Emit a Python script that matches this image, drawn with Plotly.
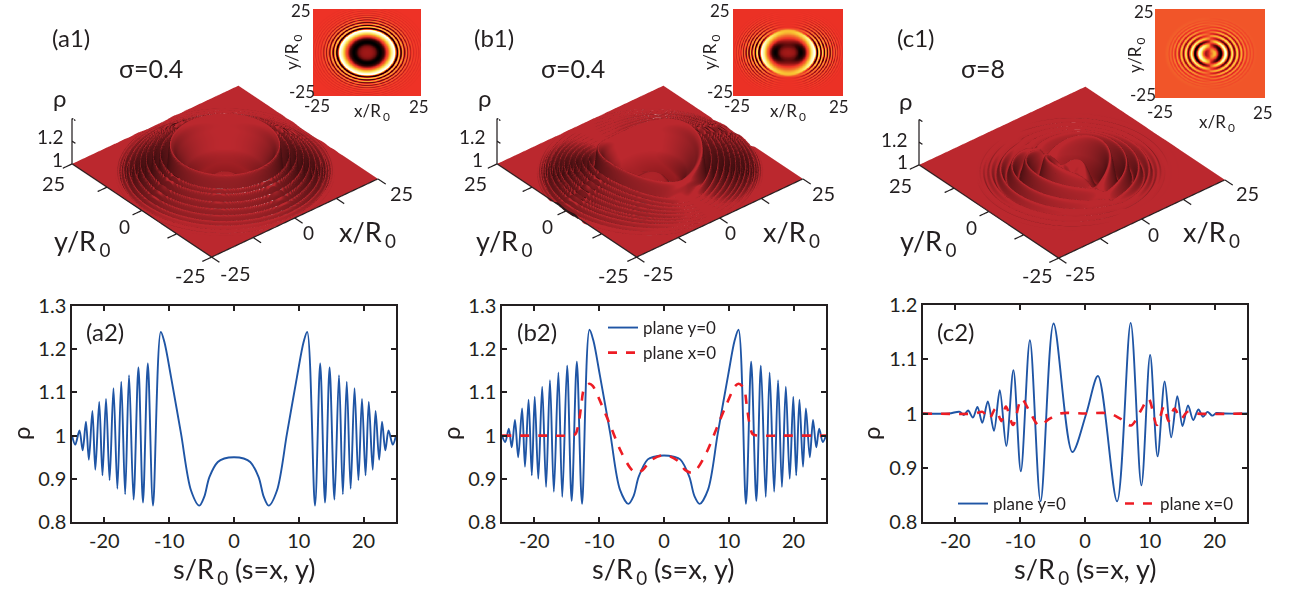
import numpy as np
import plotly.graph_objects as go

W, H = 1295, 593

a_r = [0, 1.5, 2.5, 3.8, 4.6, 5.35, 6.63, 8.18, 9.72, 10.75, 11.3, 12.5, 13.3, 14.05, 14.75, 15.5, 16.2, 16.8, 17.4, 18.0,
       18.6, 19.2, 19.75, 20.3, 20.8, 21.4, 21.85, 22.4, 22.85, 23.35, 23.85, 24.5, 25]
a_rho = [0.95, 0.947, 0.939, 0.904, 0.858, 0.838, 0.873, 1.005, 1.136, 1.217, 1.24, 0.838, 1.167, 0.845, 1.158, 0.852, 1.14,
         0.864, 1.125, 0.877, 1.11, 0.897, 1.085, 0.908, 1.078, 0.921, 1.057, 0.944, 1.032, 0.966, 1.012, 0.979, 1.0]

b_r = [0, 1.5, 2.5, 3.9, 4.7, 5.5, 6.8, 8.3, 9.9, 10.9, 11.5, 12.65, 13.45, 14.25, 14.95, 15.7, 16.3, 17.0, 17.6, 18.2,
       18.8, 19.4, 19.95, 20.4, 20.9, 21.45, 21.9, 22.5, 23.0, 23.5, 23.95, 24.5, 25]
b_rho = [0.954, 0.951, 0.945, 0.905, 0.86, 0.842, 0.875, 1.005, 1.14, 1.22, 1.245, 0.842, 1.171, 0.849, 1.162, 0.858, 1.146,
         0.87, 1.128, 0.881, 1.113, 0.9, 1.09, 0.908, 1.083, 0.928, 1.063, 0.95, 1.036, 0.973, 1.016, 0.985, 1.0]
b2_r = [0, 2.0, 3.3, 4.3, 5.1, 6.6, 8.2, 9.7, 11.0, 11.5, 12.3, 12.8, 13.2, 13.7, 14.6, 18, 25]
b2_rho = [0.955, 0.943, 0.92, 0.914, 0.923, 0.962, 1.02, 1.074, 1.115, 1.12, 1.11, 1.066, 1.027, 1.003, 1.0, 1.0, 1.0]

c_s = [-25, -21, -19.3, -18.7, -18.05, -17.3, -16.6, -15.85, -15.0, -14.05, -13.15, -12.15, -11.05, -9.9, -8.5, -6.85,
       -4.85, -1.95, 0.2, 2.0, 4.95, 7.05, 8.7, 10.05, 11.2, 12.3, 13.3, 14.25, 15.05, 15.9, 16.7, 17.5, 18.2, 18.9,
       19.65, 20.3, 21.5, 25]
c_rho = [1.0, 1.0, 1.003, 0.997, 1.0056, 0.9926, 1.012, 0.983, 1.022, 0.968, 1.043, 0.94, 1.08, 0.8935, 1.135, 0.838,
         1.166, 0.929, 1.0, 1.069, 0.838, 1.167, 0.8675, 1.108, 0.921, 1.059, 0.956, 1.032, 0.977, 1.015, 0.988, 1.0075,
         0.994, 1.003, 0.996, 1.001, 1.0, 1.0]
c2_r = [0, 3.8, 5.5, 7.1, 8.6, 9.8, 11.1, 12.2, 12.9, 13.8, 14.8, 15.8, 17, 25]
c2_rho = [1.0, 1.0, 0.99, 0.978, 1.005, 1.027, 0.979, 1.013, 0.986, 1.009, 0.99, 1.003, 1.0, 1.0]

x_tick_vals = [-20, -10, 0, 10, 20]
x_tick_text = ["-20", "-10", "0", "10", "20"]
y_ticks_ab = [0.8, 0.9, 1.0, 1.1, 1.2, 1.3]
y_ticks_c = [0.8, 0.9, 1.0, 1.1, 1.2]
axis3d_ticks = [-25, -12.5, 0, 12.5, 25]
z3d_ticks = [1.0, 1.2, 1.4]

BLUE, RED, INK = "#1f55a5", "#ed1c24", "#231f20"
FONT = "Lato"


def mirror(r, v):
    r, v = list(r), list(v)
    return [-t for t in r[:0:-1]] + r, v[:0:-1] + v


def pchip(xs, ys, q):
    xs, ys = np.asarray(xs, float), np.asarray(ys, float)
    h = np.diff(xs)
    d = np.diff(ys) / h
    m = np.zeros_like(xs)
    for i in range(1, len(xs) - 1):
        if d[i - 1] * d[i] > 0:
            w1, w2 = 2 * h[i] + h[i - 1], h[i] + 2 * h[i - 1]
            m[i] = (w1 + w2) / (w1 / d[i - 1] + w2 / d[i])
    q = np.clip(q, xs[0], xs[-1])
    k = np.clip(np.searchsorted(xs, q) - 1, 0, len(h) - 1)
    t = (q - xs[k]) / h[k]
    return ((2 * t**3 - 3 * t**2 + 1) * ys[k] + (t**3 - 2 * t**2 + t) * h[k] * m[k]
            + (-2 * t**3 + 3 * t**2) * ys[k + 1] + (t**3 - t**2) * h[k] * m[k + 1])


grid = np.linspace(-25, 25, 301)
X, Y = np.meshgrid(grid, grid)
R = np.hypot(X, Y)
COS2 = np.where(R > 0, X**2 / np.maximum(R, 1e-9)**2, 1.0)


def make_a(scale):
    return pchip(a_r, a_rho, R / scale)


def make_b(scale, p=1.0):
    w = COS2**p
    return w * pchip(b_r, b_rho, R / scale) + (1 - w) * pchip(b2_r, b2_rho, R / scale)


def make_c(scale, p=0.3):
    w = COS2**p
    return w * pchip(c_s, c_rho, np.sign(X) * R / scale) + (1 - w) * pchip(c2_r, c2_rho, R / scale)


# the surfaces and insets show the outer rings fading faster (a, b) or slower (c) than the cuts do
DAMP_SURF_A = np.clip(1 - (R - 17) / 9, 0.08, 1)
DAMP_A = np.clip(1 - (R - 13) / 10, 0.12, 1)
DAMP_B = np.clip(1 - (R - 14) / 14, 0.2, 1)
BOOST_C = np.clip(1 + 0.2 * (R - 10), 1, 3)

field_a = 1 + (make_a(1.12) - 1) * DAMP_SURF_A
field_b = make_b(1.05, 0.7)
field_c = make_c(1.25)

fig = go.Figure()


def dom_x(a, b):
    return [a / W, b / W]


def dom_y(top, bottom):
    return [1 - bottom / H, 1 - top / H]


HOT = [[0, "#000000"], [0.12, "#3a0505"], [0.25, "#8f1414"], [0.4, "#ee3226"], [0.55, "#f3702c"], [0.7, "#f9c433"],
       [0.85, "#fdf08a"], [1, "#ffffff"]]
SURF = [[0, "#8f1a1e"], [0.39, "#bb282e"], [1, "#bb282e"]]

lines = [
    ((72, 396, 306, 522), [(a_r, a_rho, True)], [0.8, 1.3], y_ticks_ab),
    ((502, 826, 306, 522), [(b_r, b_rho, True), (b2_r, b2_rho, True)], [0.8, 1.3], y_ticks_ab),
    ((923, 1247, 305, 522), [(c_s, c_rho, False), (c2_r, c2_rho, True)], [0.8, 1.2], y_ticks_c),
]
layout_axes = {}
axis_style = dict(showline=True, linecolor=INK, linewidth=1.5, mirror="ticks", ticks="inside", ticklen=5,
                  tickcolor=INK, tickwidth=1.5, showgrid=False, zeroline=False,
                  tickfont=dict(family=FONT, size=20, color=INK))
for i, (box, series, yr, yt) in enumerate(lines):
    n = i + 1
    sfx = "" if n == 1 else str(n)
    for j, (sx, sy, do_mirror) in enumerate(series):
        px, py = mirror(sx, sy) if do_mirror else (sx, sy)
        fig.add_trace(go.Scatter(
            x=px, y=py, mode="lines", xaxis=f"x{sfx}", yaxis=f"y{sfx}",
            line=dict(color=BLUE if j == 0 else RED, width=1.9 if j == 0 else 2.6,
                      dash="solid" if j == 0 else "dash", shape="spline", smoothing=0.9),
            name="plane y=0" if j == 0 else "plane x=0",
            showlegend=i > 0, legend="legend" if i == 1 else "legend2",
            hoverinfo="skip"))
    layout_axes[f"xaxis{sfx}"] = dict(domain=dom_x(box[0], box[1]), range=[-25, 25], tickvals=x_tick_vals,
                                      ticktext=x_tick_text, anchor=f"y{sfx}", **axis_style)
    layout_axes[f"yaxis{sfx}"] = dict(domain=dom_y(box[2], box[3]), range=yr, tickvals=yt,
                                      ticktext=[f"{v:g}" for v in yt], anchor=f"x{sfx}", **axis_style)

insets = [((313, 421, 9, 96), 1 + (make_a(1.12) - 1) * DAMP_A, 0.84, 1.24),
          ((733, 843, 9, 96), 1 + (make_b(1.05) - 1) * DAMP_B, 0.84, 1.245),
          ((1155, 1265, 9, 98), 1 + (make_c(1.0) - 1) * BOOST_C, 0.84, 1.17)]
for i, (box, f, zmin, zmax) in enumerate(insets):
    n = i + 4
    fig.add_trace(go.Heatmap(x=grid, y=grid, z=f, zmin=zmin, zmax=zmax, colorscale=HOT, showscale=False,
                             zsmooth="best", xaxis=f"x{n}", yaxis=f"y{n}", hoverinfo="skip"))
    hidden = dict(visible=False, range=[-25, 25])
    layout_axes[f"xaxis{n}"] = dict(domain=dom_x(box[0], box[1]), anchor=f"y{n}", **hidden)
    layout_axes[f"yaxis{n}"] = dict(domain=dom_y(box[2], box[3]), anchor=f"x{n}", **hidden)

EYE_K = 1.6
XY_LIM = 28
ASPECT = 1.67
LIGHT = dict(x=-350, y=450, z=-1000)
scenes = [("scene", (225, 160), field_a), ("scene2", (650, 160), field_b), ("scene3", (1072, 161), field_c)]
SCENE_W, SCENE_H = 400, 260
for name, (cx, cy), f in scenes:
    fig.add_trace(go.Surface(
        x=grid, y=grid, z=f, scene=name, surfacecolor=f, cmin=0.84, cmax=1.25, colorscale=SURF, showscale=False,
        hoverinfo="skip",
        lighting=dict(ambient=0.25, diffuse=1.0, specular=0.3, roughness=0.3, fresnel=0.1),
        lightposition=LIGHT))
    ax_x, ax_y, ax_z = [], [], []
    for t in axis3d_ticks:
        ax_x += [t, t, None]
        ax_y += [-25, -27.8, None]
        ax_z += [1, 1, None]
        ax_x += [-25, -27.8, None]
        ax_y += [t, t, None]
        ax_z += [1, 1, None]
    ax_x += [-25, 25, None, -25, -25, None, -25, -25, None]
    ax_y += [-25, -25, None, -25, 25, None, 25, 25, None]
    ax_z += [1, 1, None, 1, 1, None, 1, z3d_ticks[-1], None]
    for v in z3d_ticks:
        ax_x += [-25, -25, None]
        ax_y += [25, 23.8, None]
        ax_z += [v, v, None]
    fig.add_trace(go.Scatter3d(x=ax_x, y=ax_y, z=ax_z, mode="lines", scene=name, showlegend=False,
                               line=dict(color=INK, width=2.5), hoverinfo="skip", connectgaps=False))
    off = dict(visible=False, showgrid=False, zeroline=False, showbackground=False, showspikes=False)
    layout_axes[name] = dict(
        domain=dict(x=dom_x(cx - SCENE_W / 2, cx + SCENE_W / 2), y=dom_y(cy - SCENE_H / 2, cy + SCENE_H / 2)),
        xaxis=dict(range=[-XY_LIM, XY_LIM], **off), yaxis=dict(range=[-XY_LIM, XY_LIM], **off),
        zaxis=dict(range=[0.8, 1.4], **off),
        aspectmode="manual", aspectratio=dict(x=ASPECT * XY_LIM / 25, y=ASPECT * XY_LIM / 25, z=0.38 * ASPECT),
        bgcolor="rgba(0,0,0,0)", dragmode=False,
        camera=dict(projection=dict(type="orthographic"), center=dict(x=0, y=0, z=0), up=dict(x=0, y=0, z=1),
                    eye=dict(x=-0.532 * EYE_K, y=-0.634 * EYE_K, z=0.56 * EYE_K)))

R0 = "R\u2009<sub>0</sub>"
labels = []


def txt(s, x, y, size, angle=0):
    labels.append(dict(text=s, x=x / W, y=1 - y / H, xref="paper", yref="paper", showarrow=False, xanchor="center",
                       yanchor="middle", textangle=angle, font=dict(family=FONT, size=size, color=INK)))


panel_text = [
    ("(a1)", (71, 37), "σ=0.4", (151, 68), (60, 98), (50, 137), (57, 160), (53, 183), (124, 227), (82, 243), (190, 275),
     (235, 273), (308, 232), (368, 233), (401, 193), (301, 10), (302, 92), (293, 52), (317, 106), (419, 107), (372, 112)),
    ("(b1)", (494, 37), "σ=0.4", (573, 68), (485, 98), (472, 137), (478, 160), (475, 183), (547, 227), (504, 243),
     (613, 275), (658, 273), (730, 232), (792, 233), (823, 193), (720, 10), (720, 92), (711, 52), (737, 106), (839, 107),
     (788, 112)),
    ("(c1)", (915, 37), "σ=8", (983, 68), (906, 100), (894, 140), (902, 161), (900, 185), (971, 228), (928, 243),
     (1037, 275), (1080, 273), (1153, 235), (1211, 233), (1247, 193), (1144, 11), (1143, 95), (1136, 55), (1160, 111),
     (1263, 112), (1217, 123)),
]
for p in panel_text:
    txt(p[0], *p[1], 24)
    txt(p[2], *p[3], 25)
    txt("ρ", *p[4], 24)
    txt("1.2", *p[5], 19)
    txt("1", *p[6], 19)
    txt("25", *p[7], 20)
    txt("0", *p[8], 19)
    txt(f"y/{R0}", *p[9], 27)
    txt("-25", *p[10], 20)
    txt("-25", *p[11], 20)
    txt("0", *p[12], 19)
    txt(f"x/{R0}", *p[13], 27)
    txt("25", *p[14], 20)
    txt("25", *p[15], 17)
    txt("-25", *p[16], 17)
    txt(f"y/{R0}", *p[17], 17, -90)
    txt("-25", *p[18], 17)
    txt("25", *p[19], 17)
    txt(f"x/{R0}", *p[20], 17)

for s, pos in (("(a2)", (105, 332)), ("(b2)", (537, 332)), ("(c2)", (956, 332))):
    txt(s, *pos, 24)
for cx, rx in ((244, 20), (663, 450), (1085, 870)):
    txt(f"s/{R0} (s=x, y)", cx, 570, 27)
    txt("ρ", rx, 433, 24, -90)

legend_font = dict(family=FONT, size=17, color=INK)
fig.update_layout(
    width=W, height=H, margin=dict(l=0, r=0, t=0, b=0, autoexpand=False), paper_bgcolor="white", plot_bgcolor="white",
    annotations=labels, hovermode=False, autosize=False,
    legend=dict(x=603 / W, y=1 - 310 / H, xanchor="left", yanchor="top", bgcolor="rgba(0,0,0,0)", font=legend_font,
                itemwidth=30, tracegroupgap=0),
    legend2=dict(x=953 / W, y=1 - 486 / H, xanchor="left", yanchor="top", bgcolor="rgba(0,0,0,0)", font=legend_font,
                 orientation="h", itemwidth=30, entrywidth=122),
    **layout_axes)

fig.write_html("out.html", post_script="document.body.style.margin='0';document.body.style.overflow='hidden';",
               config=dict(displayModeBar=False))
